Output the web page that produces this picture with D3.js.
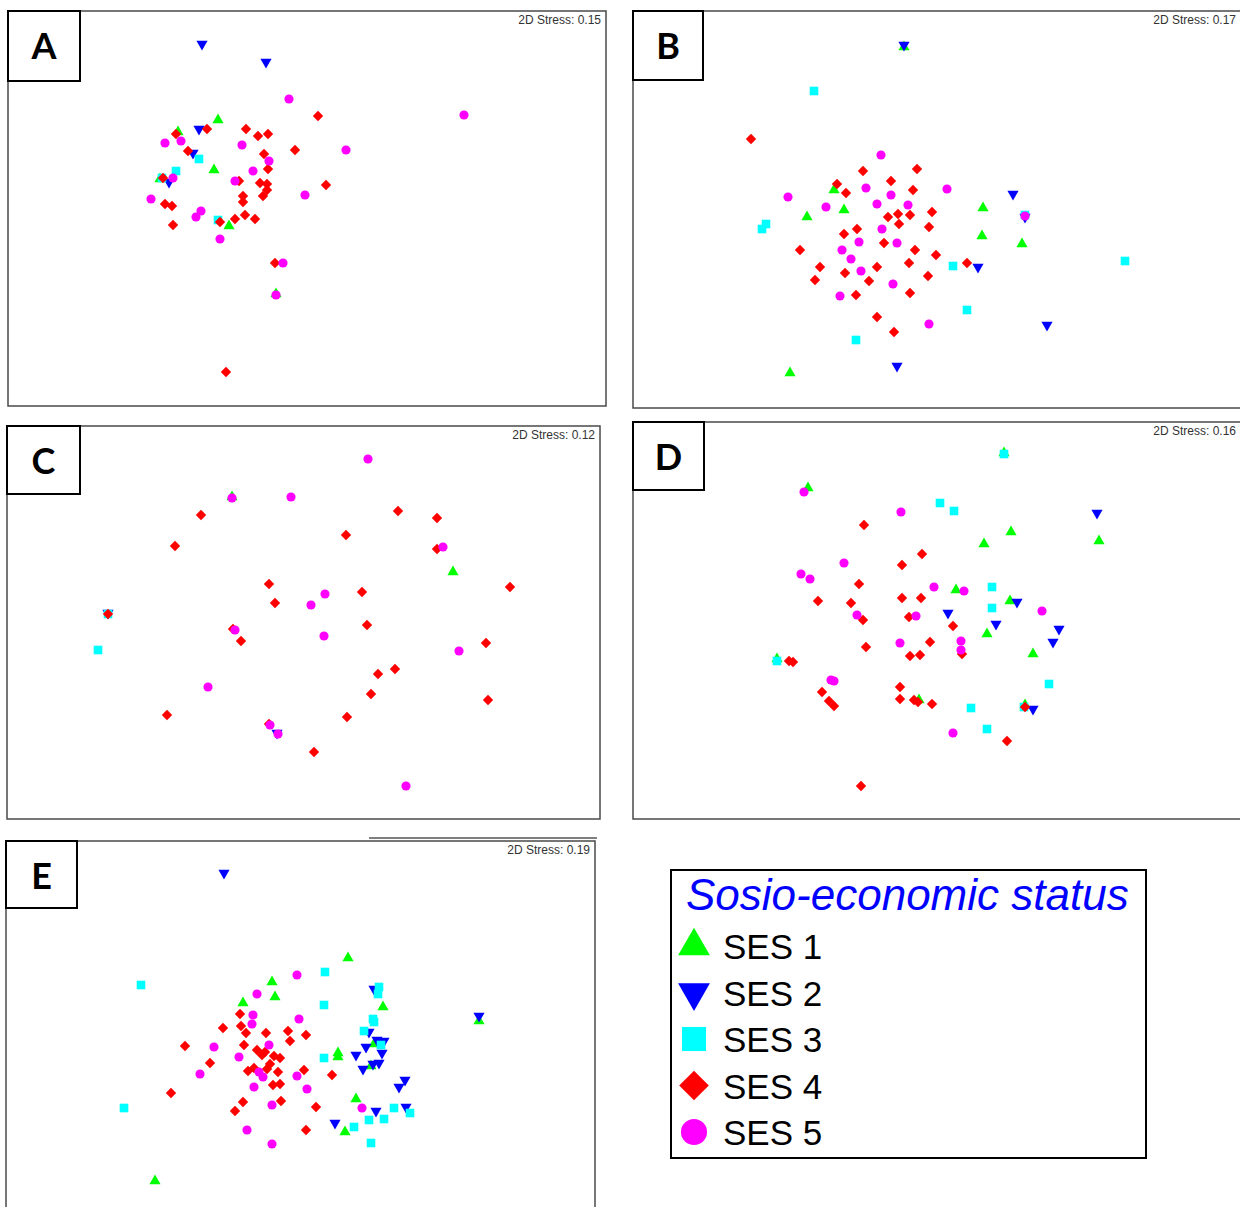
<!DOCTYPE html>
<html>
<head>
<meta charset="utf-8">
<script src="https://cdn.jsdelivr.net/npm/d3@7"></script>
<style>
  body { margin: 0; background: #fff; }
  svg { display: block; }
</style>
</head>
<body>
<div id="chart"></div>
<script>
// nMDS ordinations, one per panel. each point: [dim1, dim2, ses group]
const SES_LABELS = ['SES 1', 'SES 2', 'SES 3', 'SES 4', 'SES 5'];
const SES_COLORS = ['#00ff00', '#0000ff', '#00ffff', '#ff0000', '#ff00ff'];
const PANEL_LABELS = ['A', 'B', 'C', 'D', 'E'];
const STRESS = [0.15, 0.17, 0.12, 0.16, 0.19];
const LEGEND_TITLE = 'Sosio-economic status';

const POINTS_A = [
  [1.94, 3.62, 2], [2.58, 3.44, 2], [2.81, 3.07, 5], [4.56, 2.91, 5], [3.10, 2.90, 4],
  [2.10, 2.86, 1], [1.91, 2.77, 2], [1.99, 2.77, 4], [2.38, 2.77, 4], [2.50, 2.70, 4],
  [2.60, 2.72, 4], [1.70, 2.74, 1], [1.68, 2.72, 4], [1.57, 2.63, 5], [1.73, 2.65, 5],
  [2.34, 2.61, 5], [1.80, 2.55, 4], [1.85, 2.53, 2], [1.91, 2.47, 3], [2.87, 2.56, 4],
  [3.38, 2.56, 5], [2.56, 2.52, 4], [2.61, 2.45, 5], [2.06, 2.36, 1], [2.60, 2.37, 4],
  [2.45, 2.35, 5], [1.68, 2.35, 3], [1.54, 2.28, 3], [1.52, 2.27, 1], [1.61, 2.24, 2],
  [1.55, 2.28, 4], [1.65, 2.28, 5], [2.31, 2.25, 4], [2.27, 2.25, 5], [2.52, 2.23, 4],
  [2.59, 2.22, 4], [2.59, 2.16, 4], [2.55, 2.10, 4], [2.35, 2.10, 4], [2.35, 2.04, 4],
  [3.18, 2.21, 4], [2.97, 2.11, 5], [1.43, 2.07, 5], [1.57, 2.02, 4], [1.64, 2.00, 4],
  [1.93, 1.95, 5], [1.88, 1.89, 5], [2.37, 1.91, 4], [2.47, 1.87, 4], [2.27, 1.87, 4],
  [2.10, 1.86, 3], [2.12, 1.84, 4], [2.21, 1.80, 1], [1.65, 1.81, 4], [2.12, 1.67, 5],
  [2.67, 1.43, 4], [2.75, 1.43, 5], [2.68, 1.12, 1], [2.68, 1.11, 5], [2.18, 0.34, 4]
];

const POINTS_B = [
  [2.71, 3.61, 1], [2.71, 3.63, 2], [1.81, 3.17, 3], [1.18, 2.69, 4], [2.48, 2.53, 5],
  [2.30, 2.37, 4], [2.84, 2.39, 4], [2.01, 2.18, 1], [2.04, 2.24, 4], [2.58, 2.27, 4],
  [2.13, 2.15, 4], [2.33, 2.20, 5], [2.80, 2.18, 4], [3.14, 2.19, 5], [1.55, 2.11, 5],
  [2.58, 2.13, 5], [1.93, 2.01, 5], [2.11, 1.98, 1], [2.44, 2.04, 5], [2.75, 2.03, 5],
  [1.74, 1.91, 1], [2.55, 1.91, 4], [2.65, 1.94, 4], [2.66, 1.84, 4], [2.77, 1.93, 4],
  [2.99, 1.96, 4], [3.50, 2.00, 1], [1.33, 1.84, 3], [1.29, 1.79, 3], [2.24, 1.79, 4],
  [2.49, 1.79, 5], [2.96, 1.81, 4], [2.11, 1.74, 4], [3.49, 1.72, 1], [2.26, 1.66, 5],
  [2.64, 1.65, 5], [2.51, 1.65, 4], [1.67, 1.58, 4], [2.09, 1.58, 5], [2.82, 1.58, 4],
  [3.03, 1.53, 4], [2.18, 1.49, 5], [1.87, 1.41, 4], [2.44, 1.41, 4], [2.76, 1.45, 4],
  [3.34, 1.45, 4], [3.20, 1.42, 3], [3.45, 1.41, 2], [2.28, 1.37, 5], [2.12, 1.35, 4],
  [1.82, 1.28, 4], [2.36, 1.27, 4], [2.95, 1.32, 4], [2.60, 1.24, 5], [2.07, 1.12, 5],
  [2.23, 1.13, 4], [2.77, 1.15, 4], [3.34, 0.98, 3], [2.44, 0.91, 4], [2.96, 0.84, 5],
  [2.61, 0.76, 4], [2.23, 0.68, 3], [3.80, 2.14, 2], [3.92, 1.93, 3], [3.92, 1.91, 2],
  [3.92, 1.92, 5], [3.89, 1.64, 1], [4.92, 1.47, 3], [4.14, 0.83, 2], [2.64, 0.42, 2],
  [1.57, 0.35, 1]
];

const POINTS_C = [
  [3.61, 3.60, 5], [2.25, 3.22, 1], [2.25, 3.21, 5], [2.84, 3.22, 5], [1.94, 3.04, 4],
  [1.68, 2.73, 4], [3.91, 3.08, 4], [3.39, 2.84, 4], [4.30, 3.01, 4], [4.30, 2.70, 4],
  [4.36, 2.72, 5], [4.46, 2.47, 1], [5.03, 2.32, 4], [2.62, 2.35, 4], [2.68, 2.16, 4],
  [3.04, 2.14, 5], [3.18, 2.25, 5], [3.55, 2.27, 4], [1.01, 2.05, 3], [1.01, 2.06, 2],
  [1.01, 2.05, 4], [0.91, 1.69, 3], [2.28, 1.89, 5], [2.26, 1.90, 4], [2.34, 1.78, 4],
  [3.17, 1.83, 5], [3.60, 1.94, 4], [4.52, 1.68, 5], [4.79, 1.76, 4], [3.71, 1.45, 4],
  [3.88, 1.50, 4], [3.64, 1.25, 4], [4.81, 1.19, 4], [2.01, 1.32, 5], [1.60, 1.04, 4],
  [3.40, 1.02, 4], [2.62, 0.95, 4], [2.63, 0.94, 5], [2.70, 0.86, 2], [2.71, 0.85, 5],
  [3.07, 0.67, 4], [3.99, 0.33, 5]
];

const POINTS_D = [
  [1.75, 3.31, 1], [1.71, 3.27, 5], [3.71, 3.65, 3], [3.71, 3.66, 1], [3.07, 3.16, 3],
  [3.21, 3.08, 3], [2.68, 3.07, 5], [2.31, 2.94, 4], [4.64, 3.06, 2], [3.78, 2.87, 1],
  [3.51, 2.75, 1], [4.66, 2.78, 1], [2.89, 2.65, 4], [2.11, 2.56, 5], [2.69, 2.54, 4],
  [1.68, 2.45, 5], [1.77, 2.40, 5], [2.26, 2.35, 4], [3.01, 2.32, 5], [3.23, 2.29, 1],
  [3.31, 2.28, 5], [3.59, 2.32, 3], [1.85, 2.18, 4], [2.18, 2.16, 4], [2.69, 2.21, 4],
  [2.88, 2.21, 4], [3.77, 2.18, 1], [3.84, 2.17, 2], [3.59, 2.11, 3], [3.15, 2.06, 2],
  [2.24, 2.04, 5], [2.30, 1.99, 4], [2.76, 2.02, 4], [2.83, 2.03, 5], [4.09, 2.08, 5],
  [3.63, 1.95, 2], [3.20, 1.93, 4], [4.26, 1.90, 2], [4.20, 1.77, 2], [3.54, 1.85, 1],
  [2.67, 1.76, 5], [2.97, 1.77, 4], [2.33, 1.72, 4], [3.28, 1.78, 5], [3.29, 1.65, 4],
  [3.28, 1.69, 5], [2.77, 1.63, 4], [2.87, 1.64, 4], [4.00, 1.65, 1], [1.44, 1.58, 3],
  [1.44, 1.60, 1], [1.56, 1.58, 4], [1.60, 1.57, 4], [1.98, 1.39, 5], [2.01, 1.38, 5],
  [4.16, 1.35, 3], [1.89, 1.27, 4], [2.67, 1.32, 4], [2.67, 1.20, 4], [1.96, 1.18, 4],
  [2.01, 1.13, 4], [2.86, 1.19, 1], [2.81, 1.19, 4], [2.85, 1.17, 4], [2.99, 1.15, 4],
  [3.38, 1.11, 3], [3.92, 1.14, 1], [3.91, 1.12, 3], [3.92, 1.12, 4], [4.00, 1.10, 2],
  [3.54, 0.90, 3], [3.20, 0.86, 5], [3.74, 0.78, 4], [2.28, 0.33, 4]
];

const POINTS_E = [
  [2.18, 3.63, 2], [3.42, 2.78, 1], [3.19, 2.64, 3], [2.91, 2.61, 5], [1.35, 2.51, 3],
  [2.66, 2.54, 1], [3.68, 2.47, 2], [3.73, 2.49, 3], [3.72, 2.42, 3], [2.51, 2.42, 5],
  [2.69, 2.39, 1], [3.18, 2.31, 3], [2.37, 2.33, 1], [3.77, 2.29, 1], [2.34, 2.22, 4],
  [2.47, 2.21, 5], [2.93, 2.17, 5], [3.67, 2.17, 3], [3.68, 2.14, 3], [2.46, 2.12, 5],
  [2.17, 2.08, 4], [2.35, 2.10, 4], [2.40, 2.03, 4], [2.60, 2.03, 4], [2.82, 2.05, 4],
  [2.84, 1.95, 4], [3.00, 2.01, 4], [3.63, 2.04, 2], [3.58, 2.05, 3], [1.79, 1.90, 4],
  [2.08, 1.89, 5], [2.38, 1.91, 4], [2.63, 1.91, 5], [2.51, 1.86, 4], [2.56, 1.81, 4],
  [2.59, 1.84, 4], [2.68, 1.80, 4], [2.74, 1.78, 4], [3.71, 1.96, 2], [3.78, 1.95, 2],
  [3.68, 1.92, 1], [3.75, 1.91, 3], [3.60, 1.89, 2], [3.50, 1.81, 2], [3.76, 1.83, 2],
  [3.32, 1.83, 1], [3.32, 1.79, 1], [3.18, 1.78, 3], [3.57, 1.67, 2], [3.67, 1.72, 2],
  [3.73, 1.73, 2], [3.65, 1.70, 1], [2.33, 1.79, 5], [2.04, 1.73, 4], [2.64, 1.72, 4],
  [2.61, 1.67, 4], [1.94, 1.62, 5], [2.42, 1.65, 4], [2.48, 1.68, 4], [2.53, 1.64, 5],
  [2.57, 1.59, 5], [2.72, 1.64, 4], [2.91, 1.60, 5], [2.98, 1.66, 4], [3.26, 1.61, 4],
  [2.67, 1.51, 4], [2.74, 1.52, 4], [2.48, 1.49, 5], [3.01, 1.47, 5], [3.99, 1.56, 2],
  [3.93, 1.49, 2], [1.65, 1.43, 4], [2.37, 1.34, 4], [2.29, 1.25, 4], [2.75, 1.35, 4],
  [2.66, 1.31, 5], [3.10, 1.29, 4], [3.50, 1.37, 1], [3.56, 1.28, 5], [3.88, 1.28, 3],
  [4.00, 1.29, 2], [4.04, 1.23, 3], [1.18, 1.28, 3], [3.70, 1.25, 2], [3.63, 1.16, 3],
  [3.78, 1.17, 3], [3.29, 1.13, 2], [3.48, 1.09, 3], [3.39, 1.04, 1], [2.41, 1.06, 5],
  [3.00, 1.06, 4], [3.65, 0.93, 3], [2.66, 0.92, 5], [4.73, 2.20, 2], [4.73, 2.15, 1],
  [1.49, 0.55, 1]
];

const PANEL_POINTS = [POINTS_A, POINTS_B, POINTS_C, POINTS_D, POINTS_E];

const W = 1240, H = 1207;

// frame of each panel on the page
const frames = [
  {x: 8,   y: 11,  w: 598, h: 395, lw: 72, lh: 70},
  {x: 633, y: 11,  w: 608, h: 397, lw: 70, lh: 69},
  {x: 7,   y: 426, w: 593, h: 393, lw: 73, lh: 68},
  {x: 633, y: 422, w: 608, h: 397, lw: 71, lh: 68},
  {x: 6,   y: 841, w: 589, h: 395, lw: 71, lh: 67}
];

const svg = d3.select('#chart').append('svg')
    .attr('width', W)
    .attr('height', H);

svg.append('rect').attr('width', W).attr('height', H).attr('fill', '#fff');

function symbolPath(ses, scale) {
    const k = scale || 1;
    if (ses === 1 || ses === 2) return d3.symbol(d3.symbolTriangle, 54 * k * k)();
    if (ses === 3) return d3.symbol(d3.symbolSquare, 74 * k * k)();
    if (ses === 4) return d3.symbol(d3.symbolSquare, 54 * k * k)();
    return d3.symbol(d3.symbolCircle, 66 * k * k)();
}
function symbolRotate(ses) {
    if (ses === 2) return 180;
    if (ses === 4) return 45;
    return 0;
}

frames.forEach((f, i) => {
    const g = svg.append('g');

    const x = d3.scaleLinear().domain([0, f.w / 100]).range([f.x, f.x + f.w]);
    const y = d3.scaleLinear().domain([0, f.h / 100]).range([f.y + f.h, f.y]);

    g.append('rect')
        .attr('x', f.x).attr('y', f.y)
        .attr('width', f.w).attr('height', f.h)
        .attr('fill', 'none')
        .attr('stroke', '#4a4a4a')
        .attr('stroke-width', 1.5);

    const pts = d3.sort(PANEL_POINTS[i], d => d[2]);

    g.selectAll('path.pt')
        .data(pts)
        .enter()
        .append('path')
        .attr('class', 'pt')
        .attr('d', d => symbolPath(d[2]))
        .attr('fill', d => SES_COLORS[d[2] - 1])
        .attr('transform', d => `translate(${x(d[0])},${y(d[1])}) rotate(${symbolRotate(d[2])})`);

    g.append('text')
        .text('2D Stress: ' + STRESS[i].toFixed(2))
        .attr('x', f.x + f.w - 5)
        .attr('y', f.y + 13)
        .attr('text-anchor', 'end')
        .style('font', '12px "Liberation Sans", Arial, sans-serif')
        .attr('fill', '#333');

    // letter box in the corner
    g.append('rect')
        .attr('x', f.x).attr('y', f.y)
        .attr('width', f.lw).attr('height', f.lh)
        .attr('fill', '#fff')
        .attr('stroke', '#000')
        .attr('stroke-width', 2);

    g.append('text')
        .text(PANEL_LABELS[i])
        .attr('x', f.x + f.lw / 2)
        .attr('y', f.y + 48)
        .attr('text-anchor', 'middle')
        .style('font', 'bold 36px Lato, "Open Sans", sans-serif')
        .attr('fill', '#000');
});

// stray rule above panel E
svg.append('line')
    .attr('x1', 369).attr('x2', 597)
    .attr('y1', 838).attr('y2', 838)
    .attr('stroke', '#555')
    .attr('stroke-width', 1.5);

// legend
const legend = svg.append('g');
legend.append('rect')
    .attr('x', 671).attr('y', 870)
    .attr('width', 475).attr('height', 288)
    .attr('fill', '#fff')
    .attr('stroke', '#000')
    .attr('stroke-width', 2);

legend.append('text')
    .text(LEGEND_TITLE)
    .attr('x', 686).attr('y', 910)
    .style('font', 'italic 44px "Liberation Sans", Arial, sans-serif')
    .attr('fill', '#0000ff');

const ly = d3.scalePoint().domain(d3.range(1, 6)).range([959, 1145]);

legend.selectAll('path.key')
    .data(d3.range(1, 6))
    .enter()
    .append('path')
    .attr('class', 'key')
    .attr('d', d => symbolPath(d, d === 3 ? 2.8 : 2.85))
    .attr('fill', d => SES_COLORS[d - 1])
    .attr('transform', d => `translate(694,${ly(d) - 13}) rotate(${symbolRotate(d)})`);

legend.selectAll('text.key')
    .data(d3.range(1, 6))
    .enter()
    .append('text')
    .attr('class', 'key')
    .text(d => SES_LABELS[d - 1])
    .attr('x', 723)
    .attr('y', d => ly(d))
    .style('font', '35px "Liberation Sans", Arial, sans-serif')
    .attr('fill', '#000');
</script>
</body>
</html>
